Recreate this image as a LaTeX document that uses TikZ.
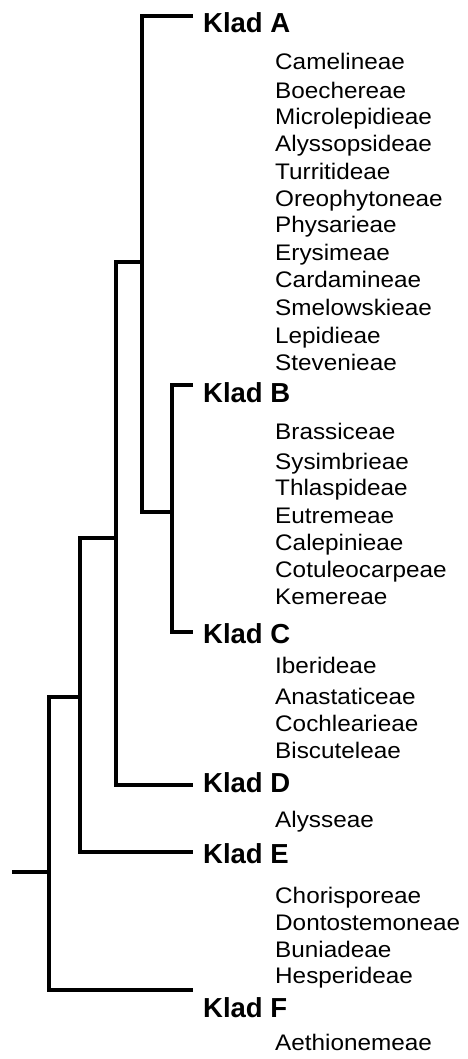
\documentclass[tikz,border=0pt]{standalone}
\usepackage{fontspec}
\setmainfont{Liberation Sans}
\newfontfamily\tribefont[FakeStretch=1.08]{Liberation Sans}
\begin{document}
\begin{tikzpicture}[x=1pt,y=-1pt,
  branch/.style={line width=4.8pt,line join=miter,line cap=butt},
  clade/.style={anchor=base west,inner sep=0pt,font=\bfseries\fontsize{27.5}{30}\selectfont},
  tribe/.style={anchor=base west,inner sep=0pt,font=\tribefont\fontsize{22.5}{25}\selectfont}]
\useasboundingbox[fill=white] (0,0) rectangle (467,1059);

% branch tips and inner nodes
\coordinate (root) at (12,872);
\coordinate (n1) at (49,872);
\coordinate (n2) at (80,697);
\coordinate (n3) at (116,538);
\coordinate (n4) at (142,262);
\coordinate (n5) at (172,512);
\coordinate (tA) at (193,16);
\coordinate (tB) at (193,385);
\coordinate (tC) at (193,632);
\coordinate (tD) at (193,785);
\coordinate (tE) at (193,852);
\coordinate (tF) at (193,990);

% tree
\draw[branch] (root) -- (n1);
\draw[branch] (n2) -| (n1 |- n2) -- (n1 |- tF) -- (tF);
\draw[branch] (n3) -| (n2 |- n3) -- (n2 |- tE) -- (tE);
\draw[branch] (n4) -| (n3 |- n4) -- (n3 |- tD) -- (tD);
\draw[branch] (tA) -| (n4 |- n5) -- (n5);
\draw[branch] (tB) -| (n5 |- tC) -- (tC);

% clade labels
\node[clade] (kA) at (203,33) {Klad A};
\node[clade] (kB) at (203,402) {Klad B};
\node[clade] (kC) at (203,643) {Klad C};
\node[clade] (kD) at (203,792) {Klad D};
\node[clade] (kE) at (203,863) {Klad E};
\node[clade] (kF) at (203,1017) {Klad F};

% tribes
\node[tribe] (t1) at (275,70) {Camelineae};
\node[tribe] (t2) at (275,99) {Boechereae};
\node[tribe] (t3) at (275,125) {Microlepidieae};
\node[tribe] (t4) at (275,152) {Alyssopsideae};
\node[tribe] (t5) at (275,180) {Turritideae};
\node[tribe] (t6) at (275,207) {Oreophytoneae};
\node[tribe] (t7) at (275,233) {Physarieae};
\node[tribe] (t8) at (275,261) {Erysimeae};
\node[tribe] (t9) at (275,287) {Cardamineae};
\node[tribe] (t10) at (275,315) {Smelowskieae};
\node[tribe] (t11) at (275,343) {Lepidieae};
\node[tribe] (t12) at (275,370) {Stevenieae};

\node[tribe] (t13) at (275,439) {Brassiceae};
\node[tribe] (t14) at (275,469) {Sysimbrieae};
\node[tribe] (t15) at (275,495) {Thlaspideae};
\node[tribe] (t16) at (275,523) {Eutremeae};
\node[tribe] (t17) at (275,550) {Calepinieae};
\node[tribe] (t18) at (275,577) {Cotuleocarpeae};
\node[tribe] (t19) at (275,604) {Kemereae};

\node[tribe] (t20) at (275,673) {Iberideae};
\node[tribe] (t21) at (275,704) {Anastaticeae};
\node[tribe] (t22) at (275,731) {Cochlearieae};
\node[tribe] (t23) at (275,758) {Biscuteleae};

\node[tribe] (t24) at (275,827) {Alysseae};

\node[tribe] (t25) at (275,903) {Chorisporeae};
\node[tribe] (t26) at (275,930) {Dontostemoneae};
\node[tribe] (t27) at (275,957) {Buniadeae};
\node[tribe] (t28) at (275,983) {Hesperideae};

\node[tribe] (t29) at (275,1050) {Aethionemeae};
\end{tikzpicture}
\end{document}
